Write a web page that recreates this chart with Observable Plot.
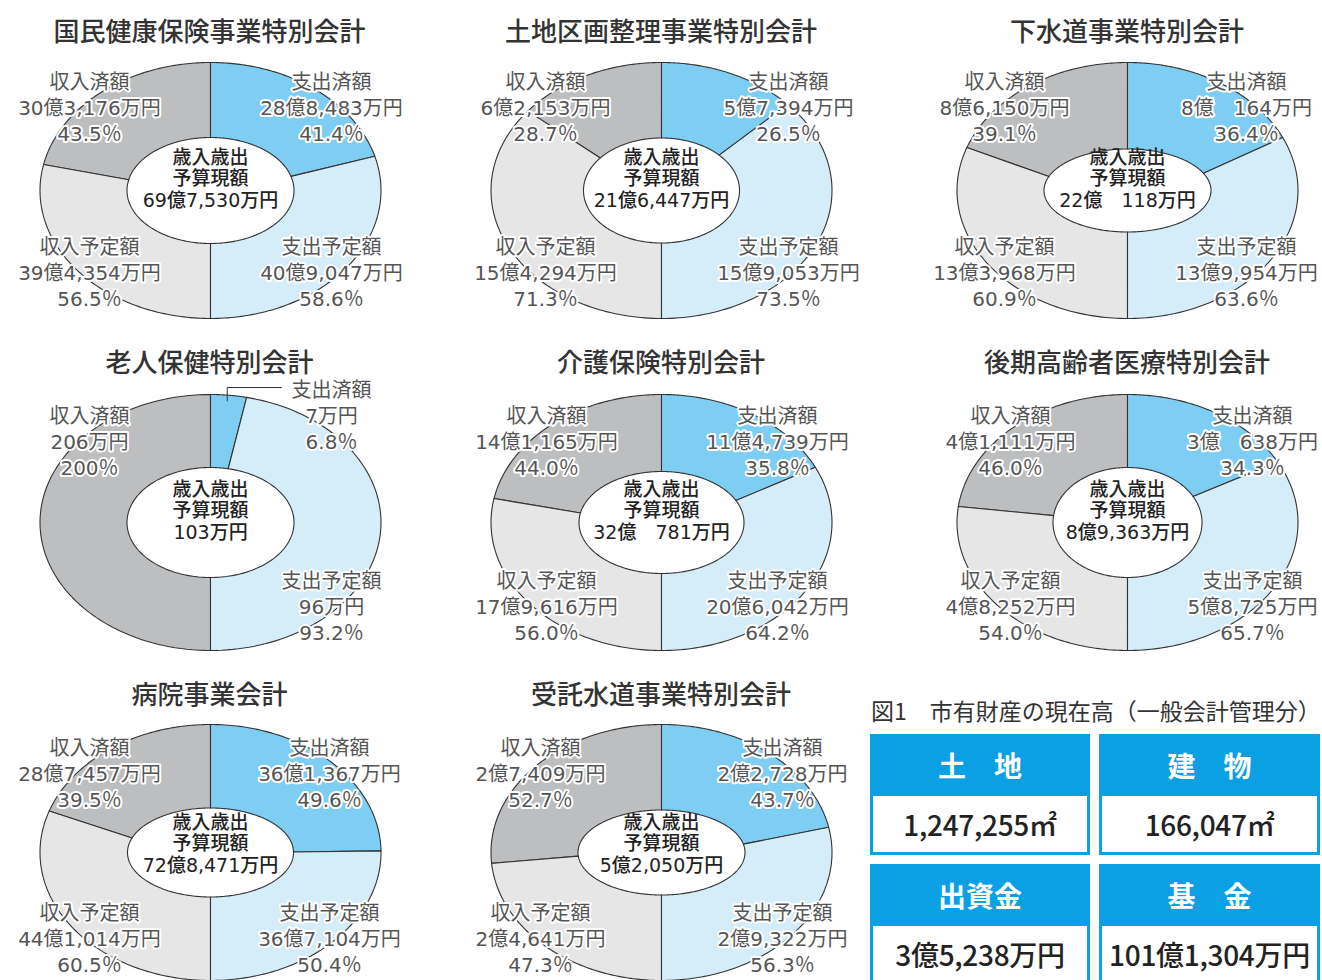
<!DOCTYPE html>
<html lang="ja">
<head>
<meta charset="utf-8">
<script src="https://cdn.jsdelivr.net/npm/d3@7"></script>
<script src="https://cdn.jsdelivr.net/npm/@observablehq/plot@0.6"></script>
<style>
  html, body { margin: 0; padding: 0; background: #fff; }
  body { width: 1322px; height: 980px; overflow: hidden; position: relative;
         font-family: 'Noto Sans CJK JP', 'Noto Sans', sans-serif; }
  .title { position: absolute; font-size: 26px; font-weight: 500; color: #333;
           white-space: nowrap; transform: translate(-50%, -50%); line-height: 1; z-index: 2; }
  .chart { position: absolute; z-index: 1; width: 440px; height: 282px; }
  .chart svg { max-width: none !important; }
  .tbltitle { position: absolute; left: 871px; top: 699px; font-size: 23px; color: #333;
              white-space: nowrap; line-height: 1; }
  .cell { position: absolute; width: 220px; }
  .cell .hd { height: 62px; background: #0ba0e4; color: #fff; font-size: 28px; font-weight: 700;
              display: flex; align-items: center; justify-content: center; }
  .cell .vl { height: 56px; border: 3px solid #0ba0e4; border-top: none; background: #fff;
              color: #222; font-size: 28px; font-weight: 500;
              display: flex; align-items: center; justify-content: center; letter-spacing: -0.3px; }
</style>
</head>
<body>
<script>
// ---------- data ----------
const accounts = ["国民健康保険事業特別会計","土地区画整理事業特別会計","下水道事業特別会計",
                  "老人保健特別会計","介護保険特別会計","後期高齢者医療特別会計",
                  "病院事業会計","受託水道事業特別会計"];
const budgetTotal = ["69億7,530万円","21億6,447万円","22億　118万円","103万円",
                     "32億　781万円","8億9,363万円","72億8,471万円","5億2,050万円"];
const revDoneAmt = ["30億3,176万円","6億2,153万円","8億6,150万円","206万円",
                    "14億1,165万円","4億1,111万円","28億7,457万円","2億7,409万円"];
const revDonePct = [43.5, 28.7, 39.1, 200, 44.0, 46.0, 39.5, 52.7];
const revPlanAmt = ["39億4,354万円","15億4,294万円","13億3,968万円", null,
                    "17億9,616万円","4億8,252万円","44億1,014万円","2億4,641万円"];
const revPlanPct = [56.5, 71.3, 60.9, null, 56.0, 54.0, 60.5, 47.3];
const expDoneAmt = ["28億8,483万円","5億7,394万円","8億　164万円","7万円",
                    "11億4,739万円","3億　638万円","36億1,367万円","2億2,728万円"];
const expDonePct = [41.4, 26.5, 36.4, 6.8, 35.8, 34.3, 49.6, 43.7];
const expPlanAmt = ["40億9,047万円","15億9,053万円","13億9,954万円","96万円",
                    "20億6,042万円","5億8,725万円","36億7,104万円","2億9,322万円"];
const expPlanPct = [58.6, 73.5, 63.6, 93.2, 64.2, 65.7, 50.4, 56.3];

const sliceNames = ["収入済額","収入予定額","支出済額","支出予定額"];

const assetTitle = "図1　市有財産の現在高（一般会計管理分）";
const assetNames = ["土　地","建　物","出資金","基　金"];
const assetValues = ["1,247,255㎡","166,047㎡","3億5,238万円","101億1,304万円"];

// ---------- layout / style (not data) ----------
const colX = [209.5, 661, 1127];
const rowY = [190, 522, 852];
const titleY = [30, 361, 693];
const topDy = [-84, -82, -80];
const botDy = [81, 83, 85];
const centerDy = [-12, -12, -9];
const ORX = 170.5, ORY = 128;
const inner = [[83.5,53],[78,52.5],[83.5,41.5],[83.5,55],[82.5,51],[74.5,55],[83,44.5],[83.5,42.5]];
const labelDx = [[-121,121],[-116,127],[-123,119],[-121,121],[-115,116],[-117,125],[-121,119],[-121,121]];
const colors = {"収入済額":"#bdbec0","収入予定額":"#e6e6e7","支出済額":"#7ecdf3","支出予定額":"#d5ecf9"};
const FONT = "'DejaVu Sans', 'Noto Sans CJK JP', sans-serif";

const fmtPct = p => (p >= 100 && Number.isInteger(p) ? String(p) : p.toFixed(1)) + "％";

function ring(t0, t1, irx, iry, name) {
  const n = 90, pts = [];
  for (let k = 0; k <= n; k++) {
    const t = (t0 + (t1 - t0) * k / n) * Math.PI / 180;
    pts.push({x: ORX * Math.sin(t), y: ORY * Math.cos(t), s: name});
  }
  for (let k = n; k >= 0; k--) {
    const t = (t0 + (t1 - t0) * k / n) * Math.PI / 180;
    pts.push({x: irx * Math.sin(t), y: iry * Math.cos(t), s: name});
  }
  pts.push({...pts[0]});
  return pts;
}

accounts.forEach((name, i) => {
  const row = Math.floor(i / 3), col = i % 3;
  const cx = colX[col], cy = rowY[row];
  const [irx, iry] = inner[i];
  const [ldx, rdx] = labelDx[i];

  const fRev = Math.min(revDonePct[i], 100) / 100;
  const fExp = expDonePct[i] / 100;
  const slices = [];
  slices.push({name: sliceNames[0], t0: 360 - fRev * 180, t1: 360});
  if (revPlanPct[i] != null) slices.push({name: sliceNames[1], t0: 180, t1: 360 - fRev * 180});
  slices.push({name: sliceNames[2], t0: 0, t1: fExp * 180});
  slices.push({name: sliceNames[3], t0: fExp * 180, t1: 180});

  // label positions given in screen offsets (down = positive)
  const labels = [];
  labels.push({x: ldx, y: topDy[row], t: `${sliceNames[0]}\n${revDoneAmt[i]}\n${fmtPct(revDonePct[i])}`});
  if (revPlanPct[i] != null)
    labels.push({x: ldx, y: botDy[row], t: `${sliceNames[1]}\n${revPlanAmt[i]}\n${fmtPct(revPlanPct[i])}`});
  const smallExp = expDonePct[i] < 15;
  const expDoneY = smallExp ? topDy[row] - 26 : topDy[row];
  labels.push({x: rdx, y: expDoneY, t: `${sliceNames[2]}\n${expDoneAmt[i]}\n${fmtPct(expDonePct[i])}`});
  labels.push({x: rdx, y: botDy[row], t: `${sliceNames[3]}\n${expPlanAmt[i]}\n${fmtPct(expPlanPct[i])}`});

  const marks = slices.map(s =>
    Plot.line(ring(s.t0, s.t1, irx, iry, s.name), {
      x: "x", y: "y", fill: colors[s.name], stroke: "#333", strokeWidth: 1.1, curve: "linear"
    })
  );

  if (smallExp) {
    // leader line from the small slice up to its label's first line
    const tm = fExp * 90 * Math.PI / 180;
    const sx = ORX * 0.92 * Math.sin(tm), sy = ORY * 0.955 * Math.cos(tm);
    const ly = -(expDoneY - 26) + 1;
    marks.push(Plot.line([{x: sx, y: sy}, {x: sx, y: ly}, {x: rdx - 50, y: ly}], {
      x: "x", y: "y", stroke: "#333", strokeWidth: 1
    }));
  }

  marks.push(Plot.text(labels, {
    x: "x", y: d => -d.y, text: "t", fontSize: 20, lineHeight: 1.3, fill: "#555",
    stroke: "white", strokeWidth: 4, paintOrder: "stroke", fontFamily: FONT,
    textAnchor: "middle", lineAnchor: "middle"
  }));
  marks.push(Plot.text([{x: 0, y: -centerDy[row], t: `歳入歳出\n予算現額\n${budgetTotal[i]}`}], {
    x: "x", y: "y", text: "t", fontSize: 19, lineHeight: 1.14, fill: "#222", fontWeight: 500,
    fontFamily: FONT, textAnchor: "middle", lineAnchor: "middle"
  }));

  const svg = Plot.plot({
    width: 440, height: 282, margin: 0,
    x: {domain: [-220, 220], axis: null},
    y: {domain: [-132, 150], axis: null},
    style: {background: "transparent", overflow: "visible", maxWidth: "none", fontFamily: FONT},
    marks
  });
  const div = document.createElement("div");
  div.className = "chart";
  div.style.left = (cx - 220) + "px";
  div.style.top = (cy - 150) + "px";
  div.appendChild(svg);
  document.body.appendChild(div);

  const t = document.createElement("div");
  t.className = "title";
  t.style.left = cx + "px";
  t.style.top = titleY[row] + "px";
  t.textContent = name;
  document.body.appendChild(t);
});

// ---------- asset table ----------
const tt = document.createElement("div");
tt.className = "tbltitle";
tt.textContent = assetTitle;
document.body.appendChild(tt);
const cellX = [870, 1099], cellY = [734, 864];
assetNames.forEach((n, k) => {
  const c = document.createElement("div");
  c.className = "cell";
  c.style.left = cellX[k % 2] + "px";
  c.style.top = cellY[Math.floor(k / 2)] + "px";
  c.style.width = (k % 2 ? 221 : 220) + "px";
  c.innerHTML = `<div class="hd"></div><div class="vl"></div>`;
  c.querySelector(".hd").textContent = n;
  c.querySelector(".vl").textContent = assetValues[k];
  document.body.appendChild(c);
});
</script>
</body>
</html>
